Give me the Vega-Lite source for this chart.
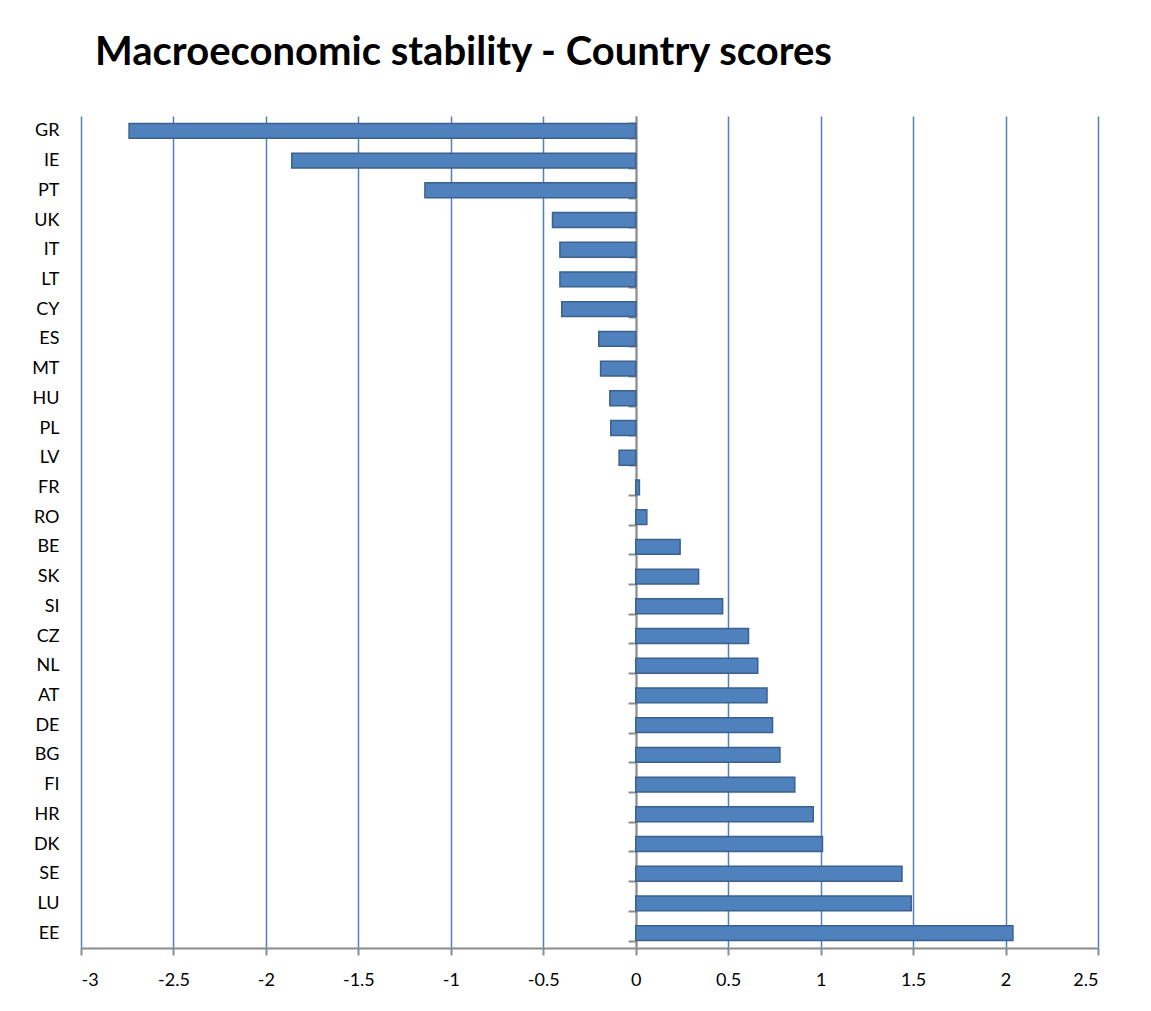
{
  "$schema": "https://vega.github.io/schema/vega-lite/v6.json",
  "width": 1017,
  "height": 832,
  "autosize": {"type": "none"},
  "padding": {"left": 81, "top": 116, "right": 53, "bottom": 63},
  "background": "white",
  "title": {
    "text": "Macroeconomic stability - Country scores",
    "anchor": "start",
    "frame": "group",
    "dx": 14,
    "offset": 34,
    "font": "Lato",
    "fontSize": 40,
    "fontWeight": "bold",
    "color": "black"
  },
  "data": {
    "values": [
      {"country": "GR", "score": -2.74},
      {"country": "IE", "score": -1.86},
      {"country": "PT", "score": -1.14},
      {"country": "UK", "score": -0.45},
      {"country": "IT", "score": -0.41},
      {"country": "LT", "score": -0.41},
      {"country": "CY", "score": -0.40},
      {"country": "ES", "score": -0.20},
      {"country": "MT", "score": -0.19},
      {"country": "HU", "score": -0.14},
      {"country": "PL", "score": -0.135},
      {"country": "LV", "score": -0.09},
      {"country": "FR", "score": 0.02},
      {"country": "RO", "score": 0.06},
      {"country": "BE", "score": 0.24},
      {"country": "SK", "score": 0.34},
      {"country": "SI", "score": 0.47},
      {"country": "CZ", "score": 0.61},
      {"country": "NL", "score": 0.66},
      {"country": "AT", "score": 0.71},
      {"country": "DE", "score": 0.74},
      {"country": "BG", "score": 0.78},
      {"country": "FI", "score": 0.86},
      {"country": "HR", "score": 0.96},
      {"country": "DK", "score": 1.01},
      {"country": "SE", "score": 1.44},
      {"country": "LU", "score": 1.49},
      {"country": "EE", "score": 2.04}
    ]
  },
  "mark": {"type": "bar", "color": "#4f81bd", "stroke": "#3a6190", "strokeWidth": 1.5},
  "encoding": {
    "y": {
      "field": "country",
      "type": "nominal",
      "sort": null,
      "scale": {"paddingInner": 0.5, "paddingOuter": 0.25},
      "axis": {
        "title": null,
        "offset": -555,
        "domainColor": "#8c8c8c",
        "domainWidth": 2,
        "ticks": true,
        "tickBand": "extent",
        "tickSize": 8,
        "tickColor": "#8c8c8c",
        "tickWidth": 2,
        "labelPadding": 569,
        "labelFont": "Lato",
        "labelFontSize": 18,
        "labelColor": "black",
        "grid": false
      }
    },
    "x": {
      "field": "score",
      "type": "quantitative",
      "scale": {"domain": [-3, 2.5], "nice": false, "zero": false},
      "axis": {
        "title": null,
        "values": [-3, -2.5, -2, -1.5, -1, -0.5, 0, 0.5, 1, 1.5, 2, 2.5],
        "labelExpr": "datum.value + ''",
        "grid": true,
        "gridColor": {"condition": {"test": "datum.value === 0", "value": "#8c8c8c"}, "value": "#4f81bd"},
        "gridWidth": 1.5,
        "domainColor": "#8c8c8c",
        "domainWidth": 2,
        "tickColor": "#8c8c8c",
        "tickWidth": 2,
        "tickSize": 7,
        "labelFont": "Lato",
        "labelFontSize": 18,
        "labelColor": "black",
        "labelPadding": 16
      }
    }
  },
  "config": {"view": {"stroke": null}}
}
